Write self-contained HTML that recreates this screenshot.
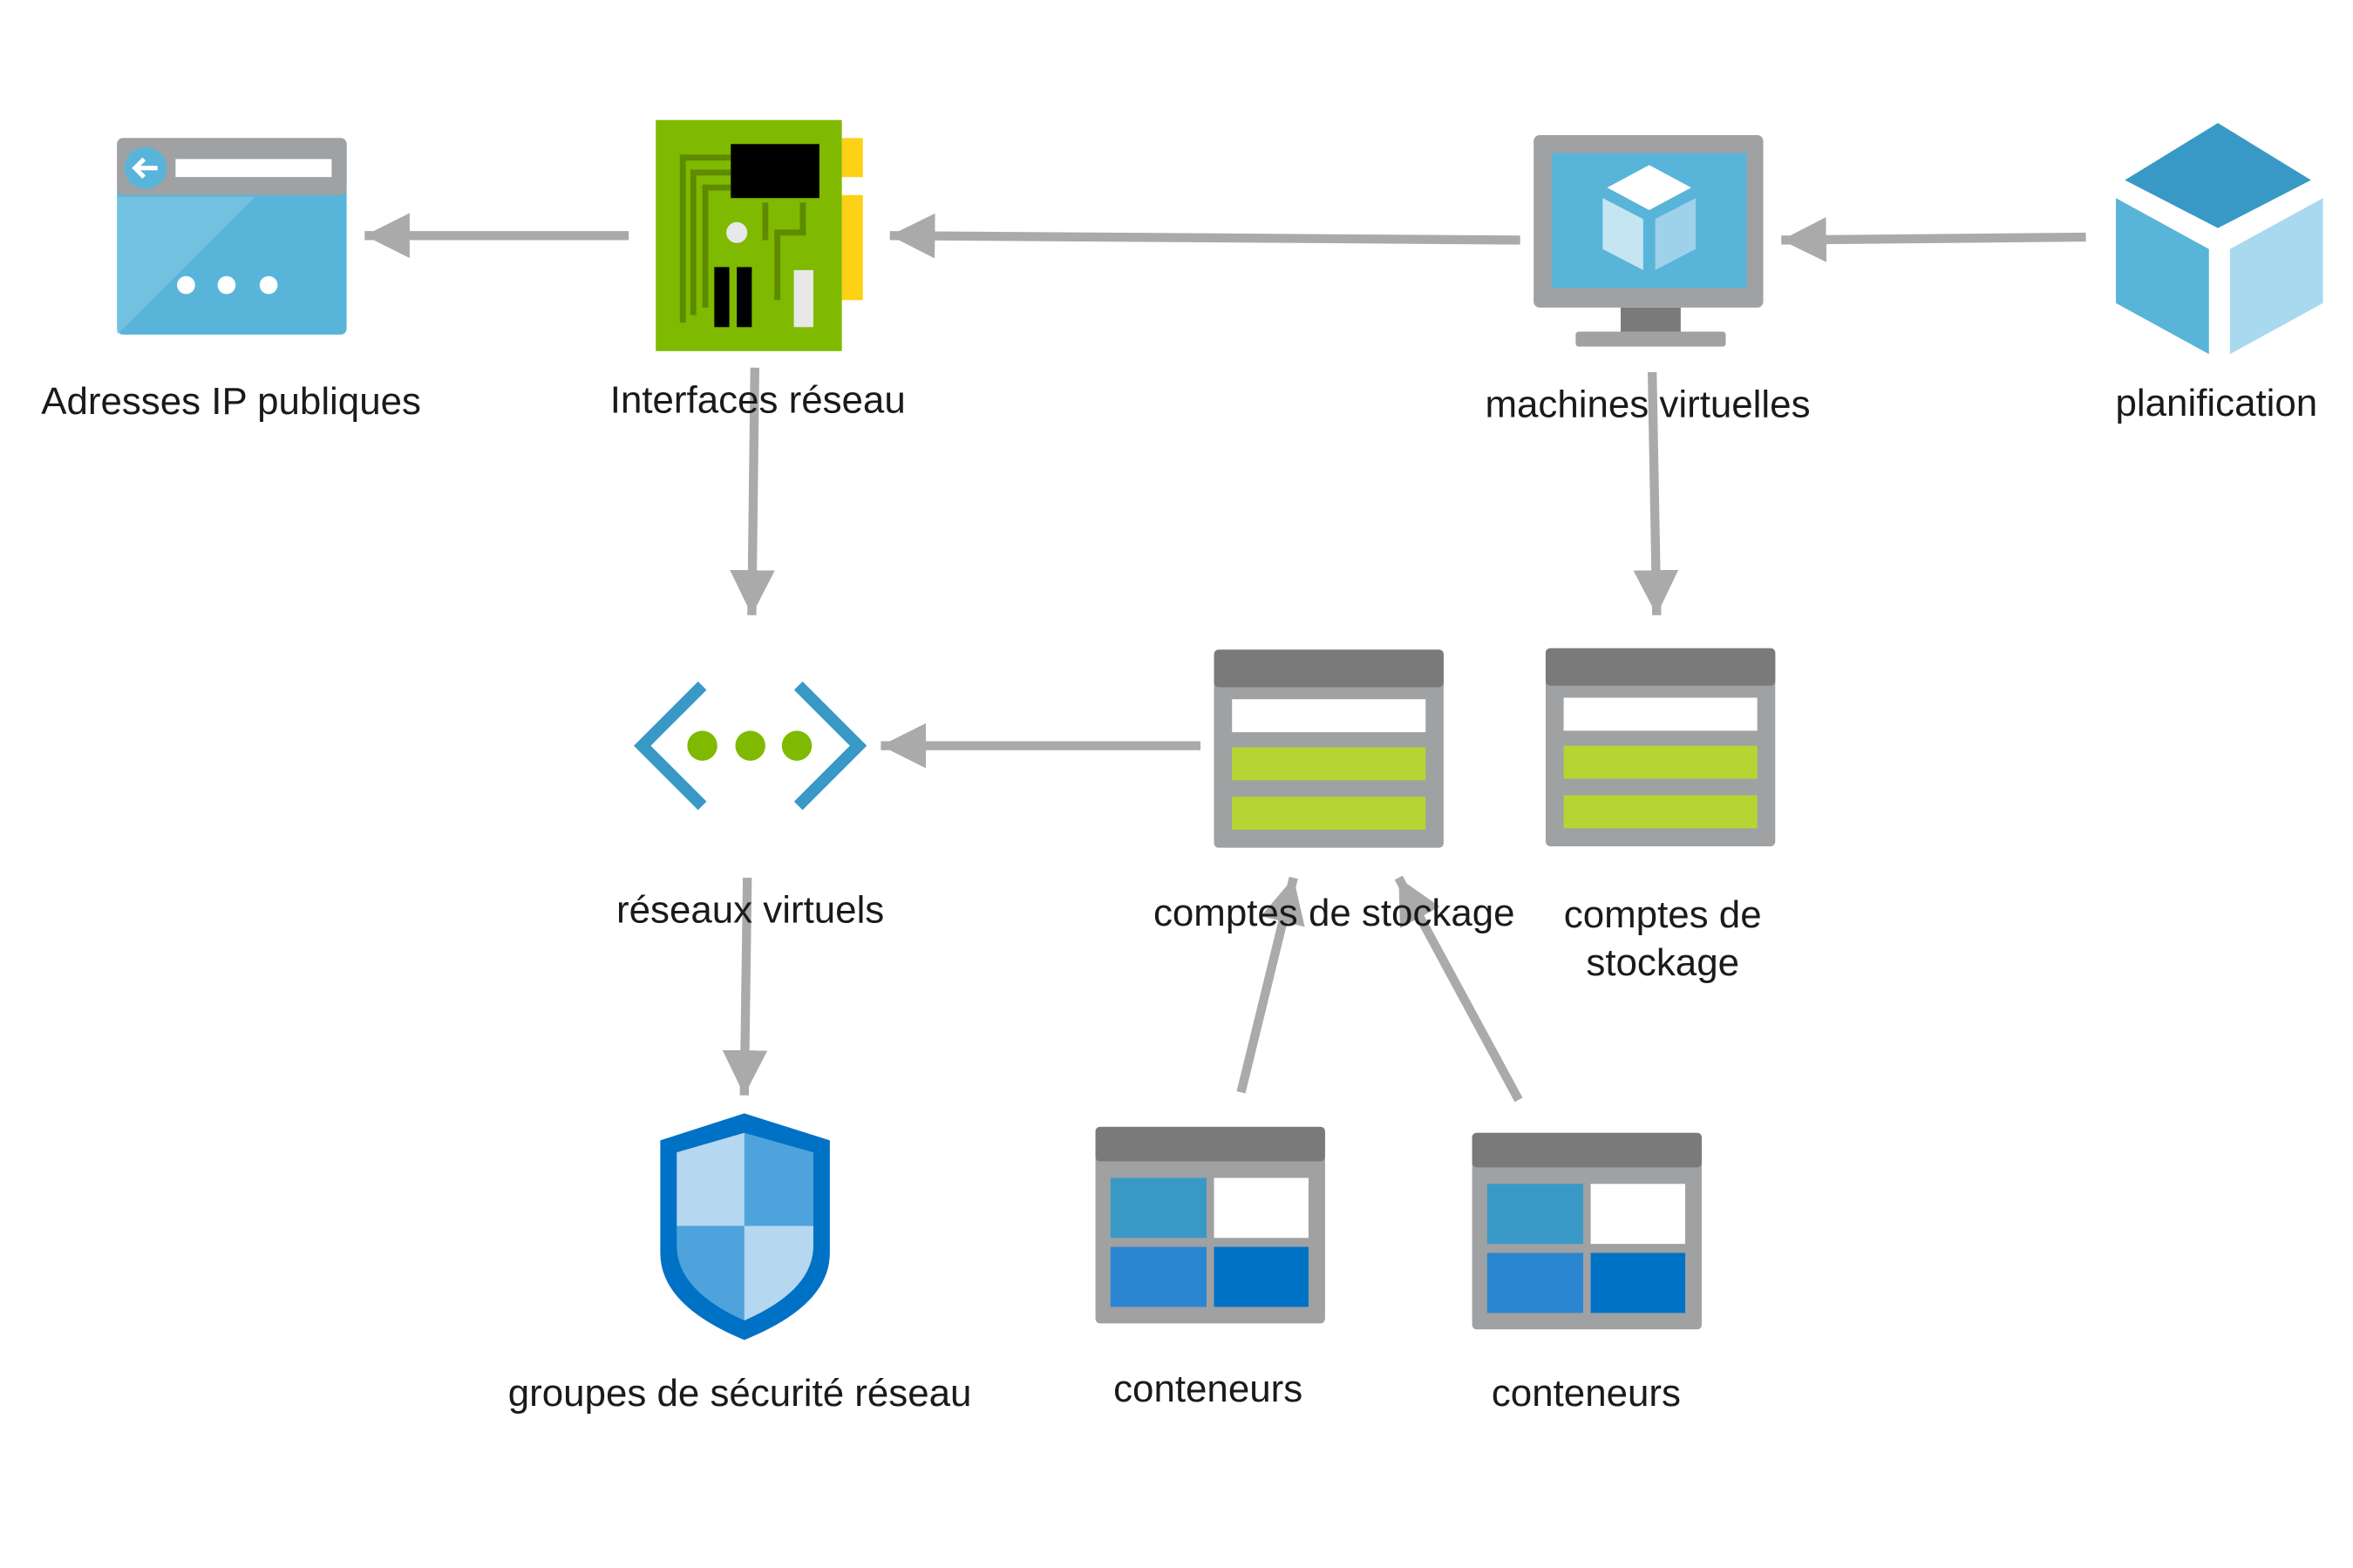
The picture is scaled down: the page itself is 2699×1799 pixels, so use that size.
<!DOCTYPE html>
<html><head><meta charset="utf-8"><style>
html,body{margin:0;padding:0;background:#fff;}
svg{display:block;}
text{font-family:"Liberation Sans",sans-serif;font-size:25.5px;fill:#1a1a1a;text-anchor:middle;}
</style></head><body>
<svg width="2699" height="1799" viewBox="0 0 1568 1045" preserveAspectRatio="none" xmlns="http://www.w3.org/2000/svg">
<defs>
<marker id="ah" viewBox="0 0 10 10" refX="10" refY="5" markerWidth="5" markerHeight="5" orient="auto" markerUnits="strokeWidth">
<path d="M0,0 L10,5 L0,10 z" fill="#aaaaaa"/></marker>
</defs>
<rect width="1568" height="1045" fill="#fff"/>
<g stroke="#aaaaaa" stroke-width="6" fill="none" marker-end="url(#ah)">
<line x1="419" y1="157" x2="243" y2="157"/>
<line x1="1013" y1="160" x2="593" y2="157"/>
<line x1="1390" y1="158" x2="1187" y2="160"/>
<line x1="503" y1="245" x2="501" y2="410"/>
<line x1="1101" y1="248" x2="1104" y2="410"/>
<line x1="800" y1="497" x2="587" y2="497"/>
<line x1="498" y1="585" x2="496" y2="730"/>
<line x1="827" y1="728" x2="862" y2="585"/>
<line x1="1012" y1="733" x2="932" y2="585"/>
</g>

<!-- Public IP -->
<rect x="78" y="92" width="153" height="131" rx="4" fill="#59b4d9"/>
<path d="M78,131 L170,131 L78,223 Z" fill="#83c9e6" opacity="0.6"/>
<rect x="78" y="92" width="153" height="38" rx="4" fill="#a0a1a2"/>
<circle cx="97" cy="112" r="14" fill="#59b4d9"/>
<path d="M105,112 H90 M96,106 L90,112 L96,118" stroke="#fff" stroke-width="3" fill="none"/>
<rect x="117" y="106" width="104" height="12" fill="#fff"/>
<circle cx="124" cy="190" r="6" fill="#fff"/><circle cx="151" cy="190" r="6" fill="#fff"/><circle cx="179" cy="190" r="6" fill="#fff"/>
<text x="154" y="276">Adresses IP publiques</text>

<!-- NIC -->
<rect x="561" y="92" width="14" height="26" fill="#fcd116"/>
<rect x="561" y="130" width="14" height="70" fill="#fcd116"/>
<rect x="437" y="80" width="124" height="154" fill="#7fba00"/>
<path d="M455,215 V105 H487 M462,210 V115 H487 M470,205 V125 H487 M510,160 V135 M518,200 V155 H535 V135" stroke="#5e8b00" stroke-width="4" fill="none"/>
<rect x="487" y="96" width="59" height="36" fill="#000"/>
<circle cx="491" cy="155" r="7" fill="#e8e8e8"/>
<rect x="476" y="178" width="10" height="40" fill="#000"/>
<rect x="491" y="178" width="10" height="40" fill="#000"/>
<rect x="529" y="180" width="13" height="38" fill="#e8e8e8"/>
<text x="505" y="275">Interfaces réseau</text>

<!-- VM -->
<rect x="1022" y="90" width="153" height="115" rx="4" fill="#a0a1a2"/>
<rect x="1034" y="102" width="130" height="90" fill="#59b4d9"/>
<rect x="1080" y="205" width="40" height="16" fill="#7a7a7a"/>
<rect x="1050" y="221" width="100" height="10" rx="2" fill="#a0a1a2"/>
<path d="M1099,110 L1127,125 L1099,140 L1071,125 Z" fill="#fff"/>
<path d="M1068,132 L1095,146 L1095,180 L1068,166 Z" fill="#c5e5f3"/>
<path d="M1103,146 L1130,132 L1130,166 L1103,180 Z" fill="#9dd2ea"/>
<text x="1098" y="278">machines virtuelles</text>

<!-- Planification -->
<path d="M1478,82 L1540,120 L1478,152 L1416,120 Z" fill="#3999c6"/>
<path d="M1410,132 L1472,166 L1472,236 L1410,202 Z" fill="#59b4d9"/>
<path d="M1486,166 L1548,132 L1548,202 L1486,236 Z" fill="#a9d9ee"/>
<text x="1477" y="277">planification</text>

<!-- VNet -->
<path d="M468,457 L428,497 L468,537" stroke="#3999c6" stroke-width="8" fill="none"/>
<path d="M532,457 L572,497 L532,537" stroke="#3999c6" stroke-width="8" fill="none"/>
<circle cx="468" cy="497" r="10" fill="#7fba00"/><circle cx="500" cy="497" r="10" fill="#7fba00"/><circle cx="531" cy="497" r="10" fill="#7fba00"/>
<text x="500" y="615">réseaux virtuels</text>

<!-- Storage -->
<g>
<rect x="809" y="433" width="153" height="132" rx="3" fill="#a0a1a2"/>
<rect x="809" y="433" width="153" height="25" rx="3" fill="#7a7a7a"/>
<rect x="821" y="466" width="129" height="22" fill="#fff"/>
<rect x="821" y="498" width="129" height="22" fill="#b8d432"/>
<rect x="821" y="531" width="129" height="22" fill="#b8d432"/>
</g>
<g>
<rect x="1030" y="432" width="153" height="132" rx="3" fill="#a0a1a2"/>
<rect x="1030" y="432" width="153" height="25" rx="3" fill="#7a7a7a"/>
<rect x="1042" y="465" width="129" height="22" fill="#fff"/>
<rect x="1042" y="497" width="129" height="22" fill="#b8d432"/>
<rect x="1042" y="530" width="129" height="22" fill="#b8d432"/>
</g>
<text x="889" y="617">comptes de stockage</text>
<text x="1108" y="618">comptes de</text>
<text x="1108" y="650">stockage</text>

<!-- Shield -->
<path d="M496,742 L553,760 L553,835 Q553,870 496,893 Q440,870 440,835 L440,760 Z" fill="#0072c6"/>
<path d="M496,755 L542,768 L542,830 Q542,860 496,880 Q451,860 451,830 L451,768 Z" fill="#4fa3dc"/>
<path d="M496,755 L496,817 L451,817 L451,768 Z" fill="#b5d7f0"/>
<path d="M496,817 L542,817 L542,830 Q542,860 496,880 Z" fill="#b5d7f0"/>
<text x="493" y="937">groupes de sécurité réseau</text>

<!-- Containers -->
<g>
<rect x="730" y="751" width="153" height="131" rx="3" fill="#a0a1a2"/>
<rect x="730" y="751" width="153" height="23" rx="3" fill="#7a7a7a"/>
<rect x="740" y="785" width="64" height="40" fill="#3999c6"/>
<rect x="809" y="785" width="63" height="40" fill="#fff"/>
<rect x="740" y="831" width="64" height="40" fill="#2a86d0"/>
<rect x="809" y="831" width="63" height="40" fill="#0072c6"/>
</g>
<g>
<rect x="981" y="755" width="153" height="131" rx="3" fill="#a0a1a2"/>
<rect x="981" y="755" width="153" height="23" rx="3" fill="#7a7a7a"/>
<rect x="991" y="789" width="64" height="40" fill="#3999c6"/>
<rect x="1060" y="789" width="63" height="40" fill="#fff"/>
<rect x="991" y="835" width="64" height="40" fill="#2a86d0"/>
<rect x="1060" y="835" width="63" height="40" fill="#0072c6"/>
</g>
<text x="805" y="934">conteneurs</text>
<text x="1057" y="937">conteneurs</text>
</svg>
</body></html>
